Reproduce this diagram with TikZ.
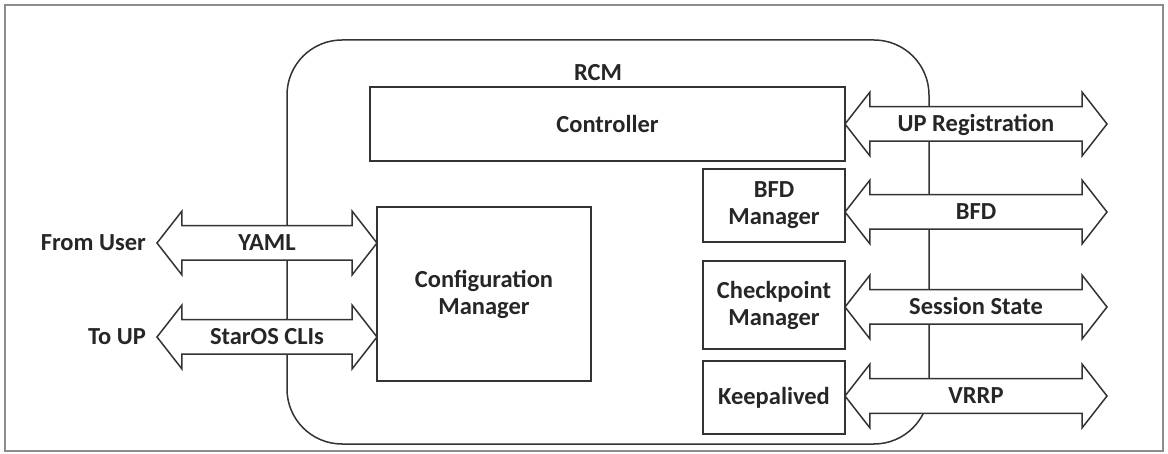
\documentclass[tikz,border=0pt]{standalone}
\usepackage{fontspec}
\setmainfont{Carlito}
\usetikzlibrary{shapes,shapes.arrows,positioning}

\begin{document}
\begin{tikzpicture}[x=1pt,y=-1pt,line width=1.5pt,
                    font=\fontsize{24.5}{27}\selectfont\bfseries,text=black!85,
                    box/.style={rectangle,draw=black!80,align=center,inner sep=0pt},
                    dblarrow/.style={double arrow,draw=black!80,fill=white,inner xsep=0pt,inner ysep=6pt,
                                     text height=18pt,text depth=3pt,minimum width=62pt,
                                     double arrow head extend=14.5pt,double arrow tip angle=104}]
              \useasboundingbox (0,0) rectangle (1168,454);
              \draw[black!45,line width=2pt] (5,5) rectangle (1163,451);

              % RCM block
              \draw[black!80,rounded corners=55pt] (287,40) rectangle (929,444);
              \node (rcm) at (598,73) {RCM};

              \node[box,minimum width=475pt,minimum height=74pt] (ctrl) at (607.5,124) {Controller};
              \node[box,minimum width=214pt,minimum height=174pt] (cfg) at (484,294) {Configuration\\Manager};
              \node[box,minimum width=142pt,minimum height=73pt] (bfdm) at (774,205.5) {BFD\\Manager};
              \node[box,minimum width=142pt,minimum height=88pt] (ckpt) at (774,305) {Checkpoint\\Manager};
              \node[box,minimum width=142pt,minimum height=73pt] (kpa) at (774,397.5) {Keepalived};

              % interfaces
              \node[dblarrow,minimum height=262pt] (upreg) at (976,124) {UP Registration};
              \node[dblarrow,minimum height=262pt] (bfd) at (976,212) {BFD};
              \node[dblarrow,minimum height=262pt] (sess) at (976,307) {Session State};
              \node[dblarrow,minimum height=262pt] (vrrp) at (976,396) {VRRP};
              \node[dblarrow,minimum height=220pt] (yaml) at (267,243) {YAML};
              \node[dblarrow,minimum height=220pt] (cli) at (267,337) {StarOS CLIs};

              \node[anchor=east] (user) at (150,243) {From User};
              \node[anchor=east] (toup) at (150,337) {To UP};
\end{tikzpicture}
\end{document}
